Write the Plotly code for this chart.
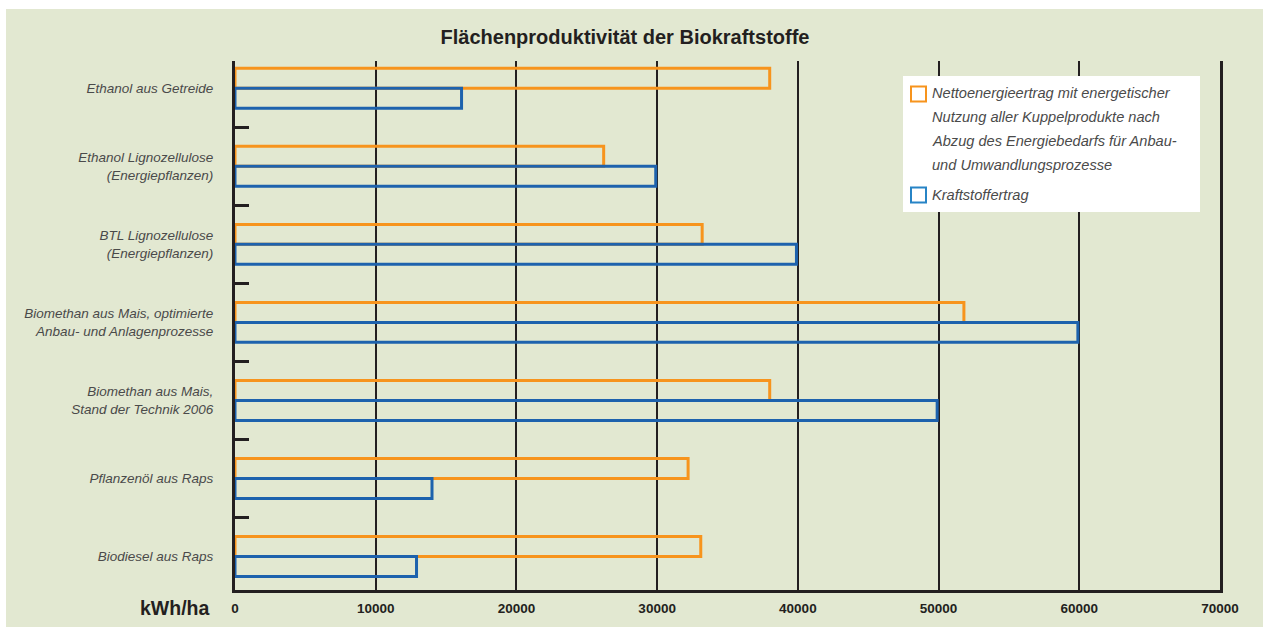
import plotly.graph_objects as go

# ---------------- data ----------------
categories = [
    "Ethanol aus Getreide",
    "Ethanol Lignozellulose<br>(Energiepflanzen)",
    "BTL Lignozellulose<br>(Energiepflanzen)",
    "Biomethan aus Mais, optimierte<br>Anbau- und Anlagenprozesse",
    "Biomethan aus Mais,<br>Stand der Technik 2006",
    "Pflanzenöl aus Raps",
    "Biodiesel aus Raps",
]
netto_values = [38000, 26200, 33200, 51800, 38000, 32200, 33100]
kraftstoff_values = [16100, 29900, 39900, 59900, 49900, 14000, 12900]
x_tick_values = [0, 10000, 20000, 30000, 40000, 50000, 60000, 70000]
x_tick_labels = ["0", "10000", "20000", "30000", "40000", "50000", "60000", "70000"]
legend_netto_lines = [
    "Nettoenergieertrag mit energetischer",
    "Nutzung aller Kuppelprodukte nach",
    "Abzug des Energiebedarfs für Anbau-",
    "und Umwandlungsprozesse",
]
legend_kraft_text = "Kraftstoffertrag"
title_text = "Flächenproduktivität der Biokraftstoffe"
unit_text = "kWh/ha"

# ---------------- style ----------------
W, H = 1266, 628
L, R, T, B = 235, 46, 61, 38
PW, PH = W - L - R, H - T - B
GREEN = "#e2e8d1"
ORANGE = "#f7941d"
BLUE = "#1d62ad"
LEG_BLUE = "#2784c6"
DARK = "#231f20"
GREY = "#4a4a4a"
FONT = "Liberation Sans, Arial, sans-serif"

BAR_W = 0.256
idx = list(range(len(categories)))
y_range = [6.43, -0.35]


def px_x(p):
    return (p - L) / PW


def px_y(p):
    return (H - B - p) / PH


fig = go.Figure()
fig.add_trace(go.Bar(
    x=netto_values, y=[i - BAR_W / 2 for i in idx], orientation="h",
    width=BAR_W, base=0, name=legend_netto_lines[0],
    marker=dict(color="rgba(0,0,0,0)", line=dict(color=ORANGE, width=3)),
    hoverinfo="x", showlegend=False,
))
fig.add_trace(go.Bar(
    x=kraftstoff_values, y=[i + BAR_W / 2 for i in idx], orientation="h",
    width=BAR_W, base=0, name=legend_kraft_text,
    marker=dict(color="rgba(0,0,0,0)", line=dict(color=BLUE, width=3)),
    hoverinfo="x", showlegend=False,
))

shapes = [
    # green panel
    dict(type="rect", xref="paper", yref="paper", layer="below",
         x0=px_x(6), x1=px_x(1263), y0=px_y(627), y1=px_y(9),
         fillcolor=GREEN, line=dict(width=0)),
    # legend box
    dict(type="rect", xref="paper", yref="paper", layer="above",
         x0=px_x(903), x1=px_x(1200), y0=px_y(212), y1=px_y(76),
         fillcolor="white", line=dict(width=0)),
    dict(type="rect", xref="paper", yref="paper", layer="above",
         x0=px_x(911), x1=px_x(926), y0=px_y(101.5), y1=px_y(86.5),
         fillcolor="white", line=dict(color=ORANGE, width=2)),
    dict(type="rect", xref="paper", yref="paper", layer="above",
         x0=px_x(911), x1=px_x(926), y0=px_y(202.5), y1=px_y(187.5),
         fillcolor="white", line=dict(color=LEG_BLUE, width=2)),
]

annotations = []
for k, line in enumerate(legend_netto_lines):
    annotations.append(dict(
        text=line, xref="paper", yref="paper", x=px_x(930), y=px_y(93 + 24 * k),
        xanchor="left", yanchor="middle", showarrow=False,
        font=dict(family=FONT, size=14.6, color=GREY, style="italic"),
    ))
annotations.append(dict(
    text=legend_kraft_text, xref="paper", yref="paper", x=px_x(930), y=px_y(195),
    xanchor="left", yanchor="middle", showarrow=False,
    font=dict(family=FONT, size=14.6, color=GREY, style="italic"),
))
annotations.append(dict(
    text=unit_text, xref="paper", yref="paper", x=px_x(211), y=px_y(608),
    xanchor="right", yanchor="middle", showarrow=False,
    font=dict(family=FONT, size=19.5, color=DARK, weight="bold"),
))

fig.update_layout(
    width=W, height=H, autosize=False,
    margin=dict(l=L, r=R, t=T, b=B, pad=0, autoexpand=False),
    paper_bgcolor="white",
    plot_bgcolor=GREEN,
    barmode="overlay",
    showlegend=False,
    title=dict(text=title_text, x=625 / W, xref="container", xanchor="center",
               y=1 - 37 / H, yref="container", yanchor="middle", automargin=False,
               font=dict(family=FONT, size=20, color=DARK, weight="bold")),
    xaxis=dict(
        range=[0, 70000], tickmode="array", tickvals=x_tick_values, ticktext=x_tick_labels,
        showgrid=True, gridcolor=DARK, gridwidth=1.6, zeroline=False,
        showline=True, linecolor=DARK, linewidth=3, automargin=False,
        ticks="", ticklabelstandoff=4,
        tickfont=dict(family=FONT, size=13.5, color=DARK, weight="bold"),
    ),
    yaxis=dict(
        range=y_range, tickmode="array", tickvals=idx, ticktext=categories,
        showgrid=False, zeroline=False, automargin=False,
        showline=True, linecolor=DARK, linewidth=3, mirror=True,
        ticks="", ticklabelstandoff=16,
        tickfont=dict(family=FONT, size=13.5, color=GREY, style="italic"),
        minor=dict(tickmode="array", tickvals=[i + 0.5 for i in idx[:-1]],
                   ticks="inside", ticklen=14, tickwidth=3, tickcolor=DARK, showgrid=False),
    ),
    shapes=shapes,
    annotations=annotations,
)

fig.write_html(
    "out.html",
    config={"displayModeBar": False, "responsive": False},
    default_width=f"{W}px",
    default_height=f"{H}px",
)

# remove the default page margin so the figure sits at the window origin
with open("out.html", "r", encoding="utf-8") as fh:
    html = fh.read()
html = html.replace("<body>", '<body style="margin:0;padding:0;overflow:hidden">', 1)
html = html.replace("<head>", '<head><style>html,body{margin:0;padding:0;}</style>', 1)
with open("out.html", "w", encoding="utf-8") as fh:
    fh.write(html)
